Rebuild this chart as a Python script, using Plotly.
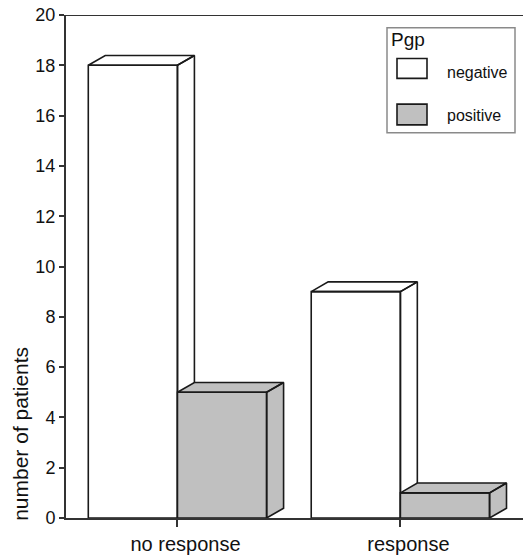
import plotly.graph_objects as go

# Patient counts by treatment response and Pgp status
categories = ["no response", "response"]
pgp_negative = [18, 9]
pgp_positive = [5, 1]
y_ticks = [0, 2, 4, 6, 8, 10, 12, 14, 16, 18, 20]

W, H = 523, 555
M_L, M_R, M_T, M_B = 66, 0, 15, 32
FONT = "Arial, Liberation Sans, Helvetica, sans-serif"
LINE = "#1a1a1a"
AXIS = "#333333"
TEXT = "#111111"
WHITE = "#ffffff"
GRAY = "#c0c0c0"

BAR_W = 0.4      # bar width in category units
DEPTH_X = 0.076  # oblique depth, x units
DEPTH_Y = 0.39   # oblique depth, y units


def box_polygons(x0, x1, h):
    """Front, top and side faces of an oblique 3-D bar, separated by gaps."""
    dx, dy = DEPTH_X, DEPTH_Y
    xs, ys = [], []
    front = [(x0, 0), (x1, 0), (x1, h), (x0, h), (x0, 0)]
    top = [(x0, h), (x1, h), (x1 + dx, h + dy), (x0 + dx, h + dy), (x0, h)]
    side = [(x1, 0), (x1 + dx, dy), (x1 + dx, h + dy), (x1, h), (x1, 0)]
    for poly in (front, top, side):
        for px, py in poly:
            xs.append(px)
            ys.append(py)
        xs.append(None)
        ys.append(None)
    return xs[:-1], ys[:-1]


fig = go.Figure()

# Bars are drawn left to right so each later box covers the side of the one behind it
for i, cat in enumerate(categories):
    for j, (vals, color) in enumerate(((pgp_negative, WHITE), (pgp_positive, GRAY))):
        x0 = i - BAR_W + j * BAR_W
        xs, ys = box_polygons(x0, x0 + BAR_W, vals[i])
        fig.add_trace(go.Scatter(
            x=xs, y=ys, mode="lines", fill="toself", fillcolor=color,
            line=dict(color=LINE, width=1.6), hoverinfo="skip",
            showlegend=False, connectgaps=False,
        ))

plot_w = W - M_L - M_R
plot_h = H - M_T - M_B


def px_x(p):
    return (p - M_L) / plot_w


def px_y(p):
    return (H - M_B - p) / plot_h


shapes = [
    # top border line of the frame
    dict(type="line", xref="paper", yref="y", x0=0, x1=1, y0=20, y1=20,
         line=dict(color=AXIS, width=2)),
    # legend frame
    dict(type="rect", xref="paper", yref="paper",
         x0=px_x(387), x1=px_x(515), y0=px_y(134), y1=px_y(28),
         line=dict(color="#8a8a8a", width=1.5), fillcolor=WHITE),
    # legend swatches
    dict(type="rect", xref="paper", yref="paper",
         x0=px_x(397), x1=px_x(427), y0=px_y(79), y1=px_y(59),
         line=dict(color=LINE, width=1.6), fillcolor=WHITE),
    dict(type="rect", xref="paper", yref="paper",
         x0=px_x(397), x1=px_x(427), y0=px_y(126), y1=px_y(105),
         line=dict(color=LINE, width=1.6), fillcolor=GRAY),
]

annotations = [
    dict(text="Pgp", xref="paper", yref="paper", x=px_x(389), y=px_y(40),
         xanchor="left", yanchor="middle", showarrow=False,
         font=dict(family=FONT, size=19, color=TEXT)),
    dict(text="negative", xref="paper", yref="paper", x=px_x(445), y=px_y(73),
         xanchor="left", yanchor="middle", showarrow=False,
         font=dict(family=FONT, size=16, color=TEXT)),
    dict(text="positive", xref="paper", yref="paper", x=px_x(445), y=px_y(117),
         xanchor="left", yanchor="middle", showarrow=False,
         font=dict(family=FONT, size=16, color=TEXT)),
    dict(text="number of patients", xref="paper", yref="paper",
         x=px_x(21), y=px_y(438), xanchor="center", yanchor="middle",
         textangle=-90, showarrow=False,
         font=dict(family=FONT, size=21, color=TEXT)),
]

fig.update_layout(
    width=W, height=H,
    margin=dict(l=M_L, r=M_R, t=M_T, b=M_B, pad=0),
    plot_bgcolor=WHITE, paper_bgcolor=WHITE,
    shapes=shapes, annotations=annotations,
    showlegend=False,
    xaxis=dict(
        range=[-0.5, 1.55], tickvals=list(range(len(categories))),
        ticktext=categories, ticks="outside", ticklen=7, tickwidth=2,
        tickcolor=AXIS, showline=True, linecolor=AXIS, linewidth=2,
        showgrid=False, zeroline=False, ticklabelshift=8,
        tickfont=dict(family=FONT, size=20, color=TEXT),
    ),
    yaxis=dict(
        range=[0, 20], tickvals=y_ticks, ticks="outside", ticklen=5,
        tickwidth=2, tickcolor=AXIS, showline=True, linecolor=AXIS,
        linewidth=2, showgrid=False, zeroline=False,
        tickfont=dict(family=FONT, size=18, color=TEXT),
    ),
)

fig.write_html("out.html")
